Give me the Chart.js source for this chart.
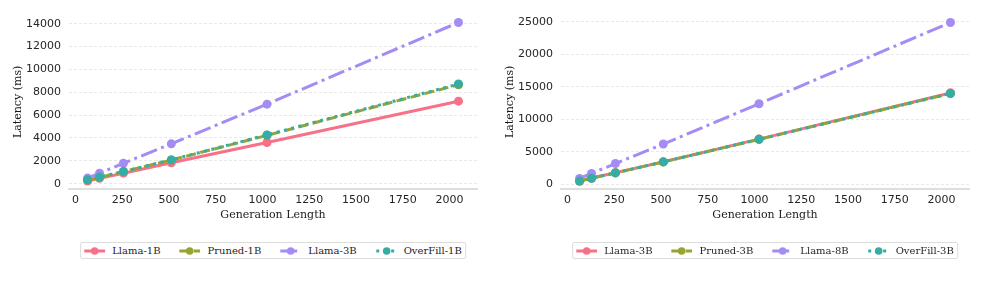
<!DOCTYPE html>
<html><head><meta charset="utf-8">
<script src="https://cdn.jsdelivr.net/npm/chart.js@4.4.0/dist/chart.umd.min.js"></script>
<style>
html,body{margin:0;padding:0;background:#fff;width:997px;height:293px;overflow:hidden;}
.panel{position:absolute;top:0;width:497px;height:293px;}
.panel canvas{position:absolute;left:0;top:0;}
.legend{position:absolute;top:242px;left:273px;transform:translateX(-50%);height:17px;box-sizing:border-box;border:1px solid #dcdcdc;border-radius:2px;display:flex;align-items:center;font-family:'DejaVu Serif',serif;font-size:10px;color:#262626;white-space:nowrap;padding:0 3px 0 3px;}
.item{display:flex;align-items:center;margin-right:19px}
.item:last-child{margin-right:0}
.item svg{margin-right:7px;display:block}
</style></head>
<body>
<div class="panel" id="p1" style="left:0px"><canvas id="c1" width="497" height="230" style="width:497px;height:230px"></canvas><div class="legend" id="l1"></div></div>
<div class="panel" id="p2" style="left:492px"><canvas id="c2" width="497" height="230" style="width:497px;height:230px"></canvas><div class="legend" id="l2"></div></div>
<script>
// ---- data ----
const genLengths = [64, 128, 256, 512, 1024, 2048];
const xTicks = [0, 250, 500, 750, 1000, 1250, 1500, 1750, 2000];

const leftLabels = ['Llama-1B', 'Pruned-1B', 'Llama-3B', 'OverFill-1B'];
const leftLlama1B = [230, 470, 920, 1830, 3600, 7220];
const leftPruned1B = [320, 550, 1060, 2070, 4230, 8660];
const leftLlama3B = [490, 920, 1790, 3490, 6960, 14100];
const leftOverFill1B = [340, 580, 1070, 2080, 4270, 8720];
const leftYTicks = [0, 2000, 4000, 6000, 8000, 10000, 12000, 14000];

const rightLabels = ['Llama-3B', 'Pruned-3B', 'Llama-8B', 'OverFill-3B'];
const rightLlama3B = [500, 960, 1780, 3460, 6960, 14080];
const rightPruned3B = [500, 950, 1770, 3450, 6920, 13990];
const rightLlama8B = [910, 1680, 3200, 6200, 12400, 24900];
const rightOverFill3B = [500, 940, 1760, 3450, 6920, 13980];
const rightYTicks = [0, 5000, 10000, 15000, 20000, 25000];

// ---- styles ----
const colors = ['#f77189', '#97a431', '#a48cf4', '#36ada4'];
const dashes = [[], [10, 4.5], [17, 4.5, 3, 4.5], [3, 4.5]];
const LW = 3;

Chart.defaults.font.family = "'DejaVu Sans', sans-serif";
Chart.defaults.color = '#262626';

function buildDatasets(labels, series) {
  return series.map((vals, i) => ({
    label: labels[i],
    data: genLengths.map((g, j) => ({ x: g, y: vals[j] })),
    borderColor: colors[i],
    backgroundColor: colors[i],
    borderWidth: LW,
    borderDash: dashes[i],
    borderCapStyle: 'butt',
    pointRadius: 4.5,
    pointBorderWidth: 0,
    pointBackgroundColor: colors[i],
    tension: 0,
    fill: false,
    order: 3 - i,
    clip: false
  }));
}

function margins(series) {
  const all = series.flat();
  const mn = Math.min(...all), mx = Math.max(...all);
  const m = (mx - mn) * 0.05;
  return [mn - m, mx + m];
}

function makeChart(id, labels, series, yTicks) {
  const [ymin, ymax] = margins(series);
  const xr = genLengths[genLengths.length - 1] - genLengths[0];
  new Chart(document.getElementById(id), {
    type: 'line',
    data: { datasets: buildDatasets(labels, series) },
    options: {
      responsive: false,
      animation: false,
      devicePixelRatio: 1,
      layout: { padding: { top: 13, right: 20, left: 0, bottom: 0 } },
      plugins: { legend: { display: false }, tooltip: { enabled: false } },
      scales: {
        x: {
          type: 'linear',
          min: genLengths[0] - 0.05 * xr,
          max: genLengths[genLengths.length - 1] + 0.05 * xr,
          afterBuildTicks: s => { s.ticks = xTicks.map(v => ({ value: v })); },
          afterFit: s => { s.height = 41; },
          ticks: { padding: 5, font: { size: 11 }, color: '#262626', maxRotation: 0, callback: v => String(v) },
          grid: { display: true, color: 'rgba(0,0,0,0)', drawTicks: false },
          border: { display: true, color: '#dedede', width: 2 },
          title: { display: true, text: 'Generation Length', font: { family: "'DejaVu Serif', serif", size: 11 }, color: '#1a1a1a', padding: { top: 0, bottom: 8.4 } }
        },
        y: {
          type: 'linear',
          min: ymin,
          max: ymax,
          afterBuildTicks: s => { s.ticks = yTicks.map(v => ({ value: v })); },
          afterFit: s => { s.width = 69; },
          ticks: { padding: 8, font: { size: 11 }, color: '#262626', callback: v => String(v) },
          grid: { display: true, color: '#e2e2e2', lineWidth: 0.8, drawTicks: false },
          border: { display: false, dash: [3, 2] },
          title: { display: true, text: 'Latency (ms)', font: { family: "'DejaVu Serif', serif", size: 11 }, color: '#1a1a1a', padding: { top: 11.4, bottom: 0 } }
        }
      }
    }
  });
}

function makeLegend(id, labels) {
  const el = document.getElementById(id);
  labels.forEach((lab, i) => {
    const item = document.createElement('div');
    item.className = 'item';
    const dash = dashes[i].length ? `stroke-dasharray="${dashes[i].join(' ')}"` : '';
    item.innerHTML = `<svg width="21" height="10" viewBox="0 0 21 10"><line x1="0" y1="5" x2="21" y2="5" stroke="${colors[i]}" stroke-width="${LW}" ${dash}/><circle cx="10.5" cy="5" r="3.8" fill="${colors[i]}"/></svg>`;
    const t = document.createElement('span');
    t.textContent = lab;
    item.appendChild(t);
    el.appendChild(item);
  });
}

makeChart('c1', leftLabels, [leftLlama1B, leftPruned1B, leftLlama3B, leftOverFill1B], leftYTicks);
makeChart('c2', rightLabels, [rightLlama3B, rightPruned3B, rightLlama8B, rightOverFill3B], rightYTicks);
makeLegend('l1', leftLabels);
makeLegend('l2', rightLabels);
</script>
</body></html>
